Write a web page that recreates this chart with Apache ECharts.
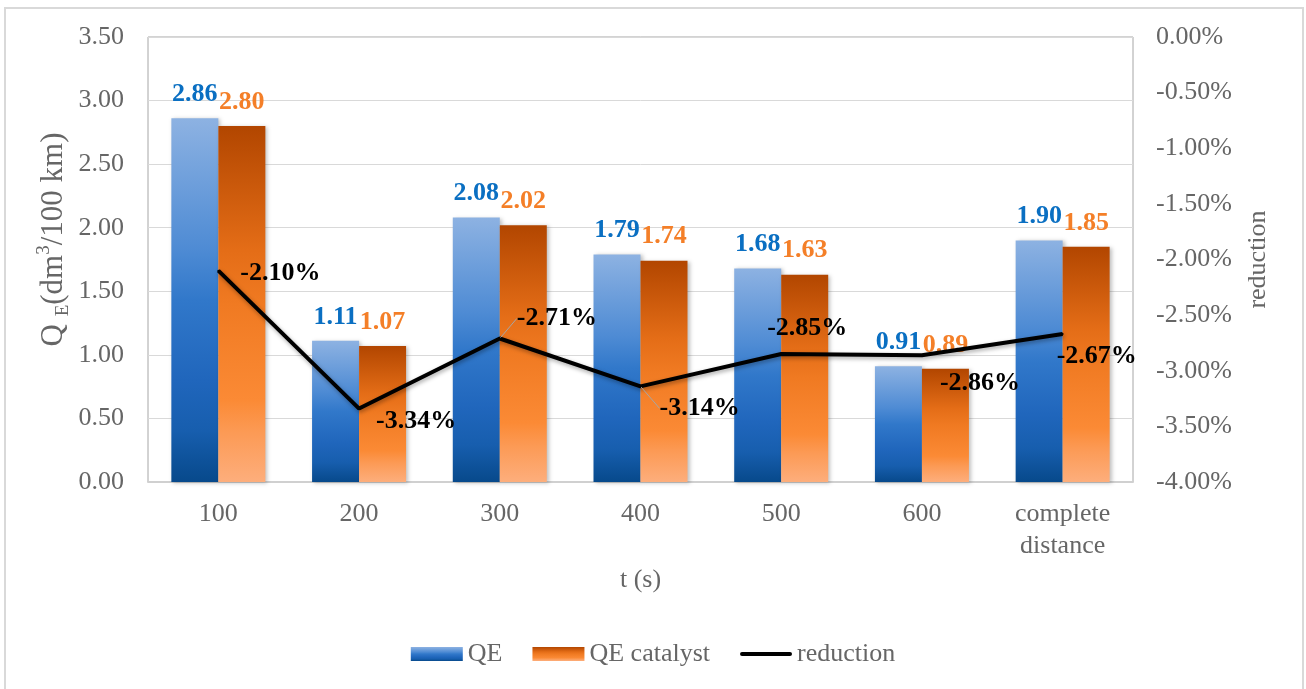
<!DOCTYPE html>
<html>
<head>
<meta charset="utf-8">
<script src="https://cdn.jsdelivr.net/npm/echarts@6/dist/echarts.min.js"></script>
<style>
  html, body { margin: 0; padding: 0; background: #ffffff; }
  #chart { width: 1306px; height: 689px; }
</style>
</head>
<body>
<div id="chart"></div>
<script>
// Consumption per 100 km, with and without catalyst, and the relative reduction
const categories = ['100', '200', '300', '400', '500', '600', 'complete\ndistance'];
const qe = [2.86, 1.11, 2.08, 1.79, 1.68, 0.91, 1.90];
const qeCatalyst = [2.80, 1.07, 2.02, 1.74, 1.63, 0.89, 1.85];
const reduction = [-2.10, -3.34, -2.71, -3.14, -2.85, -2.86, -2.67]; // percent

// Axis ranges
const leftAxisRange = { min: 0, max: 3.5, step: 0.5 };
const rightAxisRange = { min: -4, max: 0, step: 0.5 };

// Where each reduction label sits relative to its point [dx, dy]
const reductionLabelOffsets = [[22, 3], [17, 13], [17, -20], [19, 22], [-14, -26], [18, 28], [-6, 22]];
const reductionLeaderLines = [false, false, true, true, false, false, false];

const FONT = '"Liberation Serif", "Times New Roman", serif';
const GRAY = '#666666';

const blueFill = new echarts.graphic.LinearGradient(0, 0, 0, 1, [
  { offset: 0, color: '#8db2e2' },
  { offset: 0.36, color: '#4e8bd4' },
  { offset: 0.5, color: '#3178ca' },
  { offset: 0.72, color: '#2066bc' },
  { offset: 0.86, color: '#175eae' },
  { offset: 1, color: '#07498b' }
]);
const orangeFill = new echarts.graphic.LinearGradient(0, 0, 0, 1, [
  { offset: 0, color: '#b24600' },
  { offset: 0.35, color: '#e46d17' },
  { offset: 0.5, color: '#f07a22' },
  { offset: 0.77, color: '#fb8a35' },
  { offset: 0.86, color: '#fc9a55' },
  { offset: 1, color: '#fdae7c' }
]);

const barShadow = {
  shadowColor: 'rgba(0,0,0,0.25)',
  shadowBlur: 4,
  shadowOffsetX: 2,
  shadowOffsetY: 1
};

const chart = echarts.init(document.getElementById('chart'), null, { renderer: 'canvas' });

chart.setOption({
  animation: false,
  backgroundColor: '#ffffff',
  textStyle: { fontFamily: FONT },
  graphic: [{
    type: 'rect',
    silent: true,
    shape: { x: 5, y: 8, width: 1298, height: 700 },
    style: { fill: 'none', stroke: '#d9d9d9', lineWidth: 2 },
    z: -10
  }],
  grid: {
    left: 148, right: 173, top: 37, bottom: 207,
    show: true,
    borderColor: '#a6a6a6',
    borderWidth: 1
  },
  legend: {
    bottom: 17,
    left: 'center',
    itemWidth: 52,
    itemHeight: 14,
    itemGap: 30,
    textStyle: { fontFamily: FONT, fontSize: 26, color: GRAY },
    data: [
      { name: 'QE', icon: 'rect' },
      { name: 'QE catalyst', icon: 'rect' },
      { name: 'reduction', icon: 'path://M2,0 L50,0 A2,2 0 0 1 50,4 L2,4 A2,2 0 0 1 2,0 Z' }
    ]
  },
  xAxis: {
    type: 'category',
    data: categories,
    name: 't (s)',
    nameLocation: 'middle',
    nameGap: 85,
    nameTextStyle: { fontFamily: FONT, fontSize: 26, color: GRAY },
    axisLine: { lineStyle: { color: '#d0d0d0', width: 2 } },
    axisTick: { show: false },
    axisLabel: { fontFamily: FONT, fontSize: 26, color: GRAY, margin: 16, lineHeight: 32 }
  },
  yAxis: [
    {
      type: 'value',
      min: leftAxisRange.min,
      max: leftAxisRange.max,
      interval: leftAxisRange.step,
      name: 'Q {sub|E}(dm{sup|3}/100 km)',
      nameLocation: 'middle',
      nameRotate: 90,
      nameGap: 75,
      nameMoveOverlap: false,
      nameTextStyle: {
        fontFamily: FONT, fontSize: 31, color: GRAY, lineHeight: 38,
        padding: [0, 0, 0, 40],
        rich: {
          sub: { fontFamily: FONT, fontSize: 19, color: GRAY, verticalAlign: 'bottom', lineHeight: 19 },
          sup: { fontFamily: FONT, fontSize: 19, color: GRAY, verticalAlign: 'top', lineHeight: 19 }
        }
      },
      axisLine: { show: false },
      axisTick: { show: false },
      axisLabel: {
        fontFamily: FONT, fontSize: 26, color: GRAY, margin: 24,
        formatter: v => v.toFixed(2)
      },
      splitLine: { show: true, lineStyle: { color: '#d9d9d9', width: 1 } }
    },
    {
      type: 'value',
      position: 'right',
      min: rightAxisRange.min,
      max: rightAxisRange.max,
      interval: rightAxisRange.step,
      name: 'reduction',
      nameLocation: 'middle',
      nameRotate: 90,
      nameGap: 112,
      nameTextStyle: { fontFamily: FONT, fontSize: 26, color: GRAY },
      axisLine: { show: false },
      axisTick: { show: false },
      axisLabel: {
        fontFamily: FONT, fontSize: 26, color: GRAY, margin: 23,
        formatter: v => v.toFixed(2) + '%'
      },
      splitLine: { show: false }
    }
  ],
  series: [
    {
      name: 'QE',
      type: 'bar',
      data: qe,
      barWidth: 47,
      barGap: '0%',
      itemStyle: Object.assign({ color: blueFill }, barShadow),
      label: {
        show: true, position: 'top', distance: 11,
        fontFamily: FONT, fontSize: 26, fontWeight: 'bold', color: '#0a6fc2',
        formatter: p => p.value.toFixed(2)
      },
      z: 2
    },
    {
      name: 'QE catalyst',
      type: 'bar',
      data: qeCatalyst,
      barWidth: 47,
      itemStyle: Object.assign({ color: orangeFill }, barShadow),
      label: {
        show: true, position: 'top', distance: 11,
        fontFamily: FONT, fontSize: 26, fontWeight: 'bold', color: '#f47f28',
        formatter: p => p.value.toFixed(2)
      },
      z: 2
    },
    {
      name: 'reduction',
      type: 'line',
      yAxisIndex: 1,
      data: reduction.map((v, i) => ({
        value: v,
        label: { offset: reductionLabelOffsets[i] },
        labelLine: { show: reductionLeaderLines[i] }
      })),
      symbol: 'circle',
      symbolSize: 2,
      itemStyle: { color: '#000000' },
      lineStyle: {
        color: '#000000', width: 4,
        shadowColor: 'rgba(0,0,0,0.35)', shadowBlur: 4, shadowOffsetX: 1, shadowOffsetY: 2
      },
      label: {
        show: true,
        position: 'inside',
        align: 'left',
        verticalAlign: 'middle',
        fontFamily: FONT, fontSize: 26, fontWeight: 'bold', color: '#000000',
        formatter: p => p.value.toFixed(2) + '%'
      },
      labelLine: { lineStyle: { color: '#a6a6a6', width: 1 } },
      z: 5
    }
  ]
});
</script>
</body>
</html>
